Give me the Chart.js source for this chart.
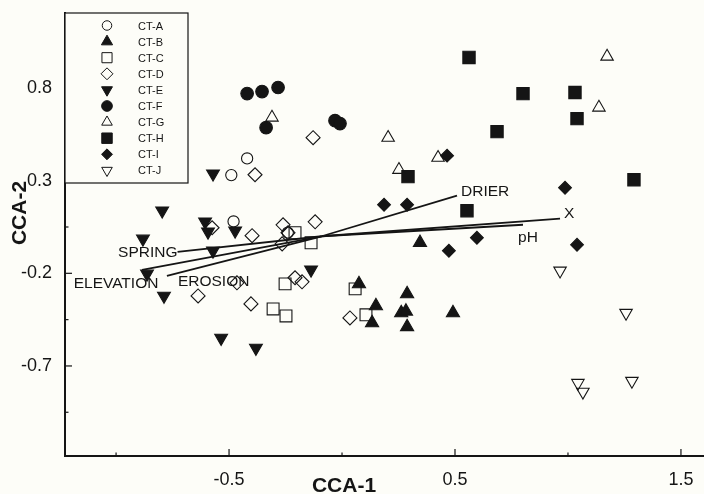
<!DOCTYPE html>
<html>
<head>
<meta charset="utf-8">
<script src="https://cdn.jsdelivr.net/npm/chart.js@4.4.1/dist/chart.umd.min.js"></script>
<style>
  html, body { margin: 0; padding: 0; background: #fdfdf8; overflow: hidden; }
  #wrap { width: 704px; height: 494px; position: relative; }
</style>
</head>
<body>
<div id="wrap"><canvas id="myChart"></canvas></div>
<script>
// site groups, CCA-1 / CCA-2 scores
const groups = ["CT-A", "CT-B", "CT-C", "CT-D", "CT-E", "CT-F", "CT-G", "CT-H", "CT-I", "CT-J"];

const ctA = [[-0.42, 0.42], [-0.49, 0.33], [-0.48, 0.08], [-0.24, 0.02]];
const ctB = [[0.345, -0.035], [0.075, -0.257], [0.15, -0.376], [0.133, -0.468], [0.288, -0.311],
             [0.262, -0.414], [0.283, -0.405], [0.288, -0.489], [0.491, -0.414]];
const ctC = [[-0.208, 0.019], [-0.137, -0.035], [-0.252, -0.257], [-0.305, -0.392], [-0.248, -0.43],
             [0.058, -0.284], [0.106, -0.424]];
const ctD = [[-0.128, 0.532], [-0.385, 0.332], [-0.119, 0.078], [-0.261, 0.062], [-0.239, 0.019],
             [-0.265, -0.041], [-0.398, 0.003], [-0.575, 0.046], [-0.208, -0.224], [-0.177, -0.246],
             [-0.465, -0.251], [-0.637, -0.322], [-0.403, -0.365], [0.035, -0.441]];
const ctE = [[-0.571, 0.338], [-0.796, 0.138], [-0.606, 0.078], [-0.593, 0.024], [-0.473, 0.03],
             [-0.881, -0.014], [-0.571, -0.078], [-0.863, -0.203], [-0.788, -0.322], [-0.137, -0.181],
             [-0.535, -0.549], [-0.381, -0.603]];
const ctF = [[-0.42, 0.77], [-0.354, 0.781], [-0.283, 0.803], [-0.336, 0.586], [-0.031, 0.624], [-0.009, 0.608]];
const ctG = [[-0.31, 0.641], [0.204, 0.532], [0.252, 0.359], [0.425, 0.424], [1.173, 0.97], [1.137, 0.695]];
const ctH = [[0.562, 0.965], [0.801, 0.77], [1.031, 0.776], [1.04, 0.635], [0.686, 0.565], [1.292, 0.305],
             [0.553, 0.138], [0.292, 0.322]];
const ctI = [[0.465, 0.435], [0.987, 0.262], [0.186, 0.17], [0.288, 0.17], [0.597, -0.008], [0.473, -0.078],
             [1.04, -0.046]];
const ctJ = [[0.965, -0.186], [1.257, -0.414], [1.044, -0.792], [1.066, -0.84], [1.283, -0.781]];

// environmental vectors (biplot arrows)
const vectorNames = ["DRIER", "X", "pH", "SPRING", "ELEVATION", "EROSION"];
const vectorOrigin = [-0.09, 0.0];
const vectorEnds = [[0.509, 0.219], [0.965, 0.095], [0.801, 0.062], [-0.728, -0.084], [-0.885, -0.181], [-0.775, -0.214]];

// axes
const xRange = [-1.226, 1.602];
const yRange = [-1.186, 1.205];
const xTickLabels = [-0.5, 0.5, 1.5];
const xMinorTicks = [-1.0, 0.0, 1.0];
const yTickLabels = [-0.7, -0.2, 0.3, 0.8];
const yMinorTicks = [-0.95, -0.45, 0.05, 0.55];

const INK = "#151515";
const BG = "#fdfdf8";
const FONT = "'Liberation Sans', Arial, sans-serif";

// marker look per group
const markers = [
  { style: "circle",   r: 5.6, fill: false, rot: 0 },
  { style: "triangle", r: 7.6, fill: true,  rot: 0 },
  { style: "rect",     r: 8.4, fill: false, rot: 0 },
  { style: "rectRot",  r: 7.0, fill: false, rot: 0 },
  { style: "triangle", r: 7.4, fill: true,  rot: 180 },
  { style: "circle",   r: 6.3, fill: true,  rot: 0 },
  { style: "triangle", r: 7.2, fill: false, rot: 0 },
  { style: "rect",     r: 8.7, fill: true,  rot: 0 },
  { style: "rectRot",  r: 6.4, fill: true,  rot: 0 },
  { style: "triangle", r: 7.2, fill: false, rot: 180 },
];

// label offsets from each vector tip [dx, dy, align]
const vectorLabelPos = [[4, -4, "left"], [4, -5, "left"], [-5, 13, "left"], [0, 1, "right"], [-26, 14, "center"], [11, 6, "left"]];

const groupData = [ctA, ctB, ctC, ctD, ctE, ctF, ctG, ctH, ctI, ctJ];

const toPts = arr => arr.map(p => ({ x: p[0], y: p[1] }));

let datasets = groups.map((g, i) => ({
  label: g,
  data: toPts(groupData[i]),
  pointStyle: markers[i].style,
  pointRadius: markers[i].r,
  pointHoverRadius: markers[i].r,
  pointRotation: markers[i].rot,
  pointBackgroundColor: markers[i].fill ? INK : "rgba(0,0,0,0)",
  pointBorderColor: INK,
  pointBorderWidth: 1.1,
  showLine: false,
}));

vectorNames.forEach((name, i) => {
  datasets.push({
    label: name,
    data: toPts([vectorOrigin, vectorEnds[i]]),
    showLine: true,
    borderColor: INK,
    borderWidth: 1.8,
    pointRadius: 0,
    fill: false,
  });
});

function makeTicks(major, minor) {
  return function (scale) {
    scale.ticks = major.concat(minor).sort((a, b) => a - b).map(v => ({ value: v }));
  };
}

const decorPlugin = {
  id: "decor",
  afterDraw(chart) {
    const ctx = chart.ctx;
    const xs = chart.scales.x, ys = chart.scales.y;
    const area = chart.chartArea;
    ctx.save();
    ctx.strokeStyle = INK;
    ctx.fillStyle = INK;

    // inward tick marks
    ctx.lineWidth = 1.2;
    xs.ticks.forEach(t => {
      const px = xs.getPixelForValue(t.value);
      const len = xTickLabels.includes(t.value) ? 7 : 3.5;
      ctx.beginPath(); ctx.moveTo(px, area.bottom); ctx.lineTo(px, area.bottom - len); ctx.stroke();
    });
    ys.ticks.forEach(t => {
      const py = ys.getPixelForValue(t.value);
      const len = yTickLabels.includes(t.value) ? 7 : 3.5;
      ctx.beginPath(); ctx.moveTo(area.left, py); ctx.lineTo(area.left + len, py); ctx.stroke();
    });

    // vector labels
    ctx.font = "15.5px " + FONT;
    ctx.textBaseline = "middle";
    vectorNames.forEach((name, i) => {
      const px = xs.getPixelForValue(vectorEnds[i][0]);
      const py = ys.getPixelForValue(vectorEnds[i][1]);
      const pos = vectorLabelPos[i];
      ctx.textAlign = pos[2];
      ctx.fillText(name, px + pos[0], py + pos[1]);
    });

    // axis titles
    ctx.font = "bold 21px " + FONT;
    ctx.textAlign = "center";
    ctx.fillText("CCA-1", 344, 486);
    ctx.save();
    ctx.translate(20, 213);
    ctx.rotate(-Math.PI / 2);
    ctx.fillText("CCA-2", 0, 0);
    ctx.restore();

    // legend box in the upper left corner
    const bx = area.left, by = area.top, bw = 123, bh = 170;
    ctx.fillStyle = BG;
    ctx.fillRect(bx, by, bw, bh);
    ctx.lineWidth = 1.2;
    ctx.strokeRect(bx, by, bw, bh);
    ctx.font = "11px " + FONT;
    ctx.textAlign = "left";
    groups.forEach((g, i) => {
      const rowY = by + 12.5 + i * 16.1;
      const m = markers[i];
      ctx.fillStyle = m.fill ? INK : "rgba(0,0,0,0)";
      ctx.strokeStyle = INK;
      ctx.lineWidth = 1;
      Chart.helpers.drawPoint(ctx, { pointStyle: m.style, radius: m.r * 0.85, rotation: m.rot, borderWidth: 1 }, bx + 42, rowY);
      ctx.fillStyle = INK;
      ctx.fillText(g, bx + 73, rowY + 1);
    });
    ctx.restore();
  }
};

const config = {
  type: "scatter",
  data: { datasets: datasets },
  options: {
    responsive: true,
    maintainAspectRatio: false,
    animation: false,
    layout: { autoPadding: false, padding: { top: 13, right: 0, left: 0, bottom: 0 } },
    plugins: { legend: { display: false }, tooltip: { enabled: false } },
    scales: {
      x: {
        type: "linear",
        min: xRange[0],
        max: xRange[1],
        afterBuildTicks: makeTicks(xTickLabels, xMinorTicks),
        afterFit: s => { s.height = 38; s.paddingLeft = 0; s.paddingRight = 0; },
        grid: { display: false, drawTicks: false, tickLength: 0 },
        border: { display: true, color: INK, width: 2 },
        ticks: {
          autoSkip: false,
          maxRotation: 0,
          padding: 13,
          color: INK,
          font: { family: FONT, size: 18 },
          callback: v => xTickLabels.includes(v) ? v.toFixed(1) : "",
        },
      },
      y: {
        type: "linear",
        min: yRange[0],
        max: yRange[1],
        afterBuildTicks: makeTicks(yTickLabels, yMinorTicks),
        afterFit: s => { s.width = 65; s.paddingTop = 0; s.paddingBottom = 0; },
        grid: { display: false, drawTicks: false, tickLength: 0 },
        border: { display: true, color: INK, width: 2 },
        ticks: {
          autoSkip: false,
          padding: 13,
          color: INK,
          font: { family: FONT, size: 18 },
          callback: v => yTickLabels.includes(v) ? v.toFixed(1) : "",
        },
      },
    },
  },
  plugins: [decorPlugin],
};

const myChart = new Chart(document.getElementById("myChart"), config);
</script>
</body>
</html>
